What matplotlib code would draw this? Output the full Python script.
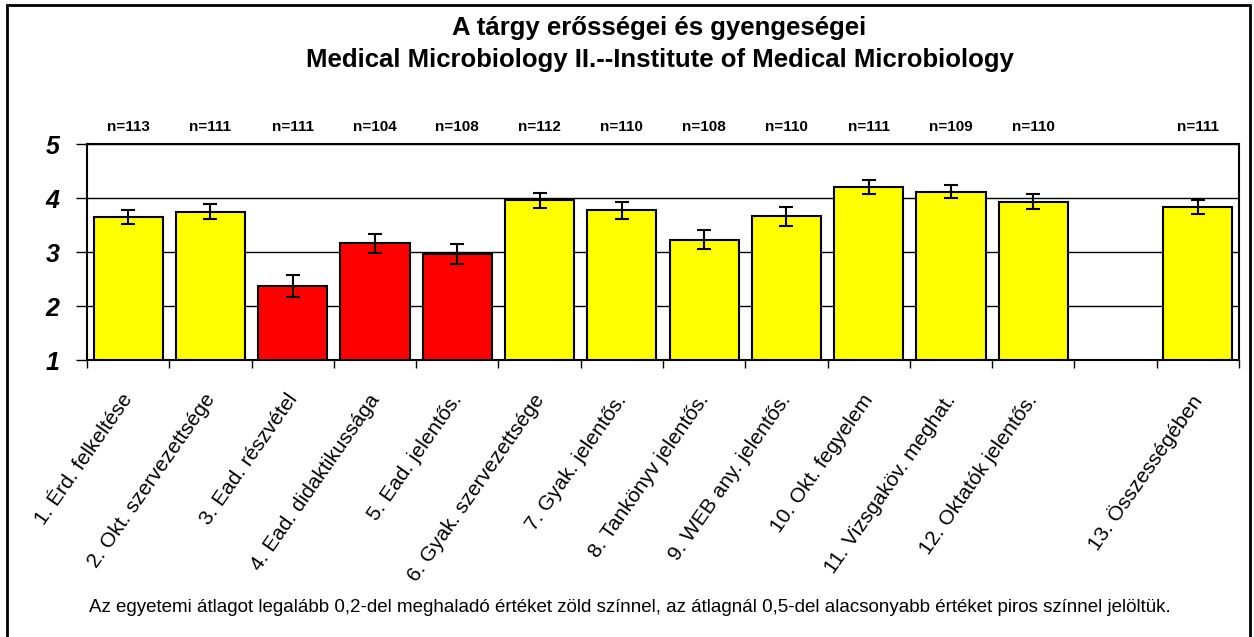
import numpy as np
import matplotlib.pyplot as plt
from matplotlib.patches import Rectangle

plt.rcParams['font.family'] = ['Liberation Sans', 'DejaVu Sans']

categories = ['1. Érd. felkeltése', '2. Okt. szervezettsége', '3. Ead. részvétel',
              '4. Ead. didaktikussága', '5. Ead. jelentős.', '6. Gyak. szervezettsége',
              '7. Gyak. jelentős.', '8. Tankönyv jelentős.', '9. WEB any. jelentős.',
              '10. Okt. fegyelem', '11. Vizsgaköv. meghat.', '12. Oktatók jelentős.',
              '', '13. Összességében']
means = [3.65, 3.75, 2.37, 3.16, 2.96, 3.96, 3.77, 3.23, 3.66, 4.21, 4.12, 3.93, np.nan, 3.84]
errors = [0.13, 0.135, 0.20, 0.17, 0.19, 0.14, 0.155, 0.18, 0.175, 0.13, 0.12, 0.14, np.nan, 0.13]
n_labels = ['n=113', 'n=111', 'n=111', 'n=104', 'n=108', 'n=112', 'n=110', 'n=108',
            'n=110', 'n=111', 'n=109', 'n=110', '', 'n=111']
colors = ['#FFFF00', '#FFFF00', '#FF0000', '#FF0000', '#FF0000', '#FFFF00', '#FFFF00',
          '#FFFF00', '#FFFF00', '#FFFF00', '#FFFF00', '#FFFF00', '#FFFF00', '#FFFF00']

fig = plt.figure(figsize=(12.54, 6.37), dpi=100)
ax = fig.add_axes([87 / 1254, 1 - 360 / 637, 1152 / 1254, 216 / 637])

x = np.arange(len(categories))
mask = ~np.isnan(np.array(means))
ax.bar(x[mask], np.array(means)[mask] - 1, bottom=1, width=0.84,
       color=np.array(colors)[mask], edgecolor='black', linewidth=1.5, zorder=3)
ax.errorbar(x[mask], np.array(means)[mask], yerr=np.array(errors)[mask], fmt='none',
            ecolor='black', elinewidth=1.5, capsize=5, capthick=1.5, zorder=4)

ax.set_xlim(-0.5, len(categories) - 0.5)
ax.set_ylim(1, 5)
ax.set_yticks([1, 2, 3, 4, 5])
ax.set_yticklabels(['1', '2', '3', '4', '5'], fontsize=18, fontweight='bold', fontstyle='italic')
ax.yaxis.grid(True, color='black', linewidth=1)
ax.set_axisbelow(True)
ax.tick_params(axis='y', length=8, width=1, pad=12)

# category ticks sit between the bars
ax.set_xticks(np.arange(len(categories) + 1) - 0.5)
ax.set_xticklabels([])
ax.tick_params(axis='x', length=6, width=1)
for i, lab in enumerate(categories):
    ax.annotate(lab, xy=(i, 1), xycoords='data', xytext=(6, -22), textcoords='offset points',
                rotation=55, ha='right', va='top', fontsize=15)

for i, t in enumerate(n_labels):
    ax.annotate(t, xy=(i, 5), xycoords='data', xytext=(0, 12), textcoords='offset points',
                ha='center', va='center', fontsize=11, fontweight='bold')

for s in ax.spines.values():
    s.set_linewidth(1.5)

fig.text(0.526, 1 - 28 / 637, 'A tárgy erősségei és gyengeségei', ha='center', va='center',
         fontsize=18.5, fontweight='bold')
fig.text(0.526, 1 - 60 / 637, 'Medical Microbiology II.--Institute of Medical Microbiology',
         ha='center', va='center', fontsize=18.5, fontweight='bold')
fig.text(630 / 1254, 1 - 608 / 637,
         'Az egyetemi átlagot legalább 0,2-del meghaladó értéket zöld színnel, '
         'az átlagnál 0,5-del alacsonyabb értéket piros színnel jelöltük.',
         ha='center', va='center', fontsize=13.5)

fig.patches.append(Rectangle((7 / 1254, -0.01), 1243 / 1254, 1 - 5 / 637 + 0.01,
                             transform=fig.transFigure, fill=False, edgecolor='black',
                             linewidth=2))

fig.savefig('out.png', dpi=100)
